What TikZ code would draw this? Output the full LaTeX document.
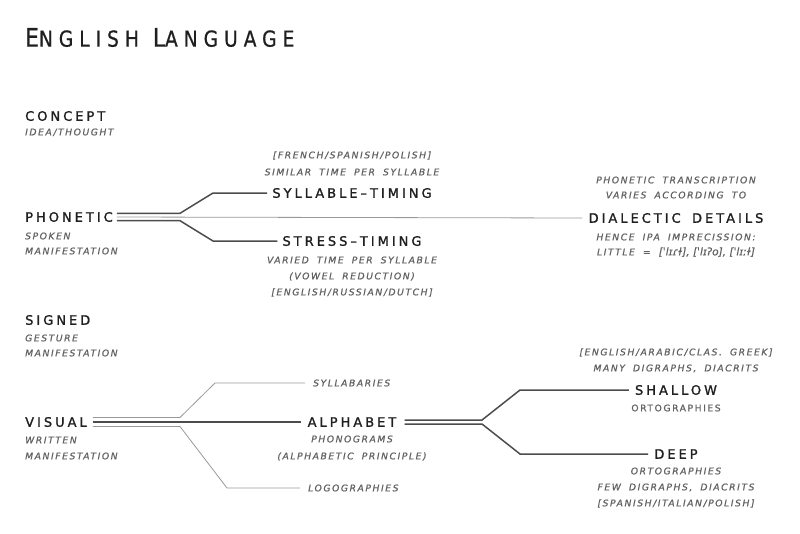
\documentclass[tikz,border=0pt]{standalone}
\usepackage{fontspec}
\usetikzlibrary{calc}
\setmainfont{DejaVu Sans}
\newfontfamily\labfont[LetterSpace=23,WordSpace=1.6,FakeBold=1.3]{DejaVu Sans}
\newfontfamily\notefont[LetterSpace=17,WordSpace=1.8,FakeBold=0.9]{DejaVu Sans}
\newfontfamily\titfont[LetterSpace=27,FakeStretch=0.85,FakeBold=0.7]{DejaVu Sans}
\newfontfamily\ipafont[FakeBold=0.6]{DejaVu Sans}
\newcommand\smc[2]{{\fontsize{25.5}{25}\selectfont #1}{\fontsize{22}{22}\selectfont #2}}

\tikzset{
  titl/.style={font=\titfont, text=black!88, inner sep=0pt, anchor=west},
  lab/.style={font={\labfont\fontsize{13}{15}\selectfont}, text=black!88, inner sep=0pt, text height=9.5pt, text depth=0pt},
  note/.style={font={\notefont\itshape\fontsize{9.2}{11}\selectfont}, text=black!62, inner sep=0pt, text height=6.7pt, text depth=0pt},
  upnote/.style={note, font={\notefont\fontsize{9.2}{11}\selectfont}},
  darkline/.style={draw=black!70, line width=1.5pt},
  greyline/.style={draw=black!40, line width=0.8pt}
}

\begin{document}
\begin{tikzpicture}[x=1pt, y=-1pt]
            \useasboundingbox (0,0) rectangle (800,533);

            \node[titl] (title) at (25,37.5) {\smc{E}{NGLISH}\hspace{14pt}\smc{L}{ANGUAGE}};

            \node[lab, anchor=west] (concept) at (25,116) {CONCEPT};
            \node[note, anchor=west] (idea) at (25,132) {IDEA/THOUGHT};

            \node[lab, anchor=west] (phon) at (25,217) {PHONETIC};
            \node[note, anchor=west] (spoken) at (25,236) {SPOKEN};
            \node[note, anchor=west] (spokenb) at (25,251) {MANIFESTATION};

            \node[note] (sylnotea) at (352,155) {[FRENCH/SPANISH/POLISH]};
            \node[note] (sylnoteb) at (352,172) {SIMILAR TIME PER SYLLABLE};
            \node[lab] (syl) at (352,193) {SYLLABLE–TIMING};
            \node[lab] (stress) at (352,241) {STRESS–TIMING};
            \node[note] (strnotea) at (352,260) {VARIED TIME PER SYLLABLE};
            \node[note] (strnoteb) at (352,276) {(VOWEL REDUCTION)};
            \node[note] (strnotec) at (352,292) {[ENGLISH/RUSSIAN/DUTCH]};

            \node[note] (dialnotea) at (676,180) {PHONETIC TRANSCRIPTION};
            \node[note] (dialnoteb) at (676,195) {VARIES ACCORDING TO};
            \node[lab] (dial) at (676,218) {DIALECTIC DETAILS};
            \node[note] (dialnotec) at (676,237) {HENCE IPA IMPRECISSION:};
            \node[note] (dialnoted) at (676,252) {LITTLE = {\ipafont\itshape\fontsize{10.5}{12}\selectfont [ˈlɪɾɫ], [ˈlɪʔo], [ˈlɪːɫ]}};

            \node[lab, anchor=west] (sign) at (25,320) {SIGNED};
            \node[note, anchor=west] (gest) at (25,338) {GESTURE};
            \node[note, anchor=west] (gestb) at (25,353) {MANIFESTATION};

            \node[lab, anchor=west] (vis) at (25,422) {VISUAL};
            \node[note, anchor=west] (writ) at (25,440) {WRITTEN};
            \node[note, anchor=west] (writb) at (25,456) {MANIFESTATION};

            \node[note, anchor=west] (sylb) at (313,383) {SYLLABARIES};
            \node[note, anchor=west] (logo) at (308,488) {LOGOGRAPHIES};

            \node[lab] (alpha) at (352,422) {ALPHABET};
            \node[note] (alphnotea) at (352,439) {PHONOGRAMS};
            \node[note] (alphnoteb) at (352,456) {(ALPHABETIC PRINCIPLE)};

            \node[note] (shalnotea) at (676,352) {[ENGLISH/ARABIC/CLAS. GREEK]};
            \node[note] (shalnoteb) at (676,368) {MANY DIGRAPHS, DIACRITS};
            \node[lab] (shal) at (676,390) {SHALLOW};
            \node[upnote] (shalnotec) at (676,408) {ORTOGRAPHIES};

            \node[lab] (deep) at (676,454) {DEEP};
            \node[note] (deepnotea) at (676,471) {ORTOGRAPHIES};
            \node[note] (deepnoteb) at (676,487) {FEW DIGRAPHS, DIACRITS};
            \node[note] (deepnotec) at (676,503) {[SPANISH/ITALIAN/POLISH]};

            \coordinate (pf) at (180,217);
            \coordinate (vf) at (180,422);
            \coordinate (af) at (482,422);

            \draw[greyline] ([xshift=4pt]phon.east) -- ([xshift=-6pt]dial.west);
            \draw[darkline] ([xshift=4pt,yshift=3.7pt]phon.east) -- ([yshift=3.7pt]pf) -- ($(pf |- syl.west)+(33,0)$) -- ([xshift=-5pt]syl.west);
            \draw[darkline] ([xshift=4pt,yshift=-3.7pt]phon.east) -- ([yshift=-3.7pt]pf) -- ($(pf |- stress.west)+(33,0)$) -- ([xshift=-5pt]stress.west);

            \draw[darkline] ([xshift=6pt]vis.east) -- ([xshift=-6pt]alpha.west);
            \draw[greyline] ([xshift=6pt,yshift=4.5pt]vis.east) -- ([yshift=4.5pt]vf) -- ($(vf |- sylb.west)+(35,0)$) -- ([xshift=-8pt]sylb.west);
            \draw[greyline] ([xshift=6pt,yshift=-4.5pt]vis.east) -- ([yshift=-4.5pt]vf) -- ($(vf |- logo.west)+(47,0)$) -- ([xshift=-8pt]logo.west);

            \draw[darkline] ([xshift=8pt,yshift=2pt]alpha.east) -- ([yshift=2pt]af) -- ($(af |- shal.west)+(38,0)$) -- ([xshift=-6pt]shal.west);
            \draw[darkline] ([xshift=8pt,yshift=-2pt]alpha.east) -- ([yshift=-2pt]af) -- ($(af |- deep.west)+(38,0)$) -- ([xshift=-6pt]deep.west);
        \end{tikzpicture}
\end{document}
